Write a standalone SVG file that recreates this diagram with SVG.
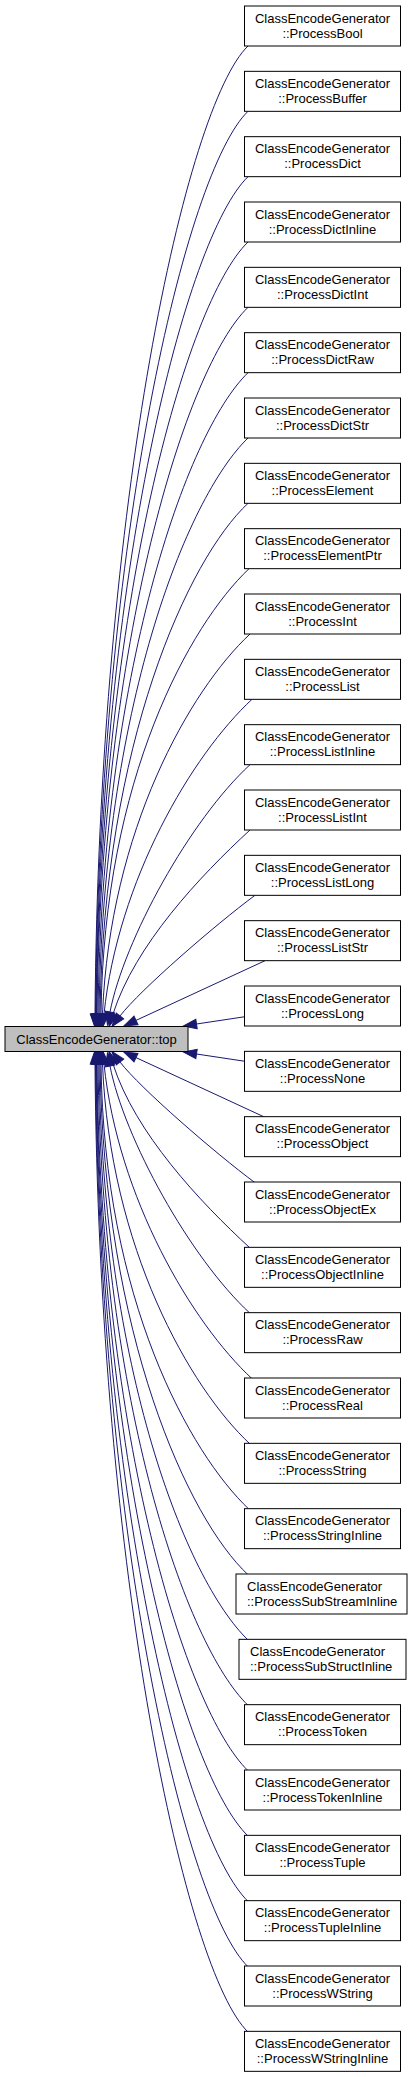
<svg xmlns="http://www.w3.org/2000/svg" width="415" height="2077" viewBox="0 0 415 2077">
<style>
.nd rect{fill:#fff;stroke:#000;stroke-width:1}
.nd text{font-family:"Liberation Sans",Arial,sans-serif;font-size:13px;fill:#000;text-anchor:middle}
.nd text.l{text-anchor:start}
#center rect{fill:#bfbfbf}
#edges path{fill:none;stroke:#191970;stroke-width:1;marker-end:url(#ah)}
</style>
<defs>
<marker id="ah" markerUnits="userSpaceOnUse" markerWidth="14" markerHeight="10" refX="0" refY="5" orient="auto" viewBox="0 0 14 10" overflow="visible">
<path d="M0,0.3 L13.3,5 L0,9.7 z" fill="#191970" stroke="#191970" stroke-width="1"/>
</marker>
</defs>
<rect width="415" height="2077" fill="#fff"/>
<g id="edges">
<path d="M248,46 C186,106 99,501 95,1014"/>
<path d="M248,111.3 C186,171.3 99.5,535.6 95.5,1014"/>
<path d="M248,176.7 C186,236.7 100,570.2 96,1014"/>
<path d="M248,242 C186,302 100.5,604.8 96.5,1014"/>
<path d="M248,307.3 C186,367.3 101,639.5 97,1014"/>
<path d="M248,372.7 C186,432.7 102,674.1 98,1014"/>
<path d="M248,438 C186,498 103,708.7 99,1014"/>
<path d="M248,503.3 C188,559.3 104,743.3 100,1014"/>
<path d="M249,568.7 C190,624.7 104,778 101,1014"/>
<path d="M250,634 C190,690 110,830 102.5,1014"/>
<path d="M252,699.3 C192,755 118,880 104,1014"/>
<path d="M250,764.7 C190,820 124,940 110,1012"/>
<path d="M250,830 C200,876 135,945 113,1014"/>
<path d="M255,895.3 C215,925 140,990 120,1016"/>
<path d="M265,960.7 L136,1020.4"/>
<path d="M245,1016.7 L196.5,1024"/>
<path d="M245,1061.3 L196.5,1054"/>
<path d="M265,1117.3 L136,1057.6"/>
<path d="M255,1182.7 C215,1153 140,1088 120,1062"/>
<path d="M250,1248 C200,1202 135,1133 113,1064"/>
<path d="M250,1313.3 C190,1258 124,1138 110,1066"/>
<path d="M252,1378.7 C192,1323 118,1198 104,1064"/>
<path d="M250,1444 C190,1388 110,1248 102.5,1064"/>
<path d="M249,1509.3 C190,1453.3 104,1300 101,1064"/>
<path d="M248,1574.7 C188,1518.7 104,1334.7 100,1064"/>
<path d="M248,1640 C186,1580 103,1369.3 99,1064"/>
<path d="M248,1705.3 C186,1645.3 102,1403.9 98,1064"/>
<path d="M248,1770.7 C186,1710.7 101,1438.5 97,1064"/>
<path d="M248,1836 C186,1776 100.5,1473.2 96.5,1064"/>
<path d="M248,1901.3 C186,1841.3 100,1507.8 96,1064"/>
<path d="M248,1966.7 C186,1906.7 99.5,1542.4 95.5,1064"/>
<path d="M248,2032 C186,1972 99,1577 95,1064"/>
</g>
<g id="center" class="nd"><rect x="5" y="1026.5" width="183" height="25"/><text x="96.5" y="1043.5">ClassEncodeGenerator::top</text></g>
<g id="n0" class="nd" transform="translate(244.5,6)"><rect width="156" height="40"/><text x="78" y="16.5">ClassEncodeGenerator</text><text x="78" y="31.5">::ProcessBool</text></g>
<g id="n1" class="nd" transform="translate(244.5,71.33)"><rect width="156" height="40"/><text x="78" y="16.5">ClassEncodeGenerator</text><text x="78" y="31.5">::ProcessBuffer</text></g>
<g id="n2" class="nd" transform="translate(244.5,136.67)"><rect width="156" height="40"/><text x="78" y="16.5">ClassEncodeGenerator</text><text x="78" y="31.5">::ProcessDict</text></g>
<g id="n3" class="nd" transform="translate(244.5,202)"><rect width="156" height="40"/><text x="78" y="16.5">ClassEncodeGenerator</text><text x="78" y="31.5">::ProcessDictInline</text></g>
<g id="n4" class="nd" transform="translate(244.5,267.33)"><rect width="156" height="40"/><text x="78" y="16.5">ClassEncodeGenerator</text><text x="78" y="31.5">::ProcessDictInt</text></g>
<g id="n5" class="nd" transform="translate(244.5,332.67)"><rect width="156" height="40"/><text x="78" y="16.5">ClassEncodeGenerator</text><text x="78" y="31.5">::ProcessDictRaw</text></g>
<g id="n6" class="nd" transform="translate(244.5,398)"><rect width="156" height="40"/><text x="78" y="16.5">ClassEncodeGenerator</text><text x="78" y="31.5">::ProcessDictStr</text></g>
<g id="n7" class="nd" transform="translate(244.5,463.33)"><rect width="156" height="40"/><text x="78" y="16.5">ClassEncodeGenerator</text><text x="78" y="31.5">::ProcessElement</text></g>
<g id="n8" class="nd" transform="translate(244.5,528.67)"><rect width="156" height="40"/><text x="78" y="16.5">ClassEncodeGenerator</text><text x="78" y="31.5">::ProcessElementPtr</text></g>
<g id="n9" class="nd" transform="translate(244.5,594)"><rect width="156" height="40"/><text x="78" y="16.5">ClassEncodeGenerator</text><text x="78" y="31.5">::ProcessInt</text></g>
<g id="n10" class="nd" transform="translate(244.5,659.33)"><rect width="156" height="40"/><text x="78" y="16.5">ClassEncodeGenerator</text><text x="78" y="31.5">::ProcessList</text></g>
<g id="n11" class="nd" transform="translate(244.5,724.67)"><rect width="156" height="40"/><text x="78" y="16.5">ClassEncodeGenerator</text><text x="78" y="31.5">::ProcessListInline</text></g>
<g id="n12" class="nd" transform="translate(244.5,790)"><rect width="156" height="40"/><text x="78" y="16.5">ClassEncodeGenerator</text><text x="78" y="31.5">::ProcessListInt</text></g>
<g id="n13" class="nd" transform="translate(244.5,855.33)"><rect width="156" height="40"/><text x="78" y="16.5">ClassEncodeGenerator</text><text x="78" y="31.5">::ProcessListLong</text></g>
<g id="n14" class="nd" transform="translate(244.5,920.67)"><rect width="156" height="40"/><text x="78" y="16.5">ClassEncodeGenerator</text><text x="78" y="31.5">::ProcessListStr</text></g>
<g id="n15" class="nd" transform="translate(244.5,986)"><rect width="156" height="40"/><text x="78" y="16.5">ClassEncodeGenerator</text><text x="78" y="31.5">::ProcessLong</text></g>
<g id="n16" class="nd" transform="translate(244.5,1051.33)"><rect width="156" height="40"/><text x="78" y="16.5">ClassEncodeGenerator</text><text x="78" y="31.5">::ProcessNone</text></g>
<g id="n17" class="nd" transform="translate(244.5,1116.67)"><rect width="156" height="40"/><text x="78" y="16.5">ClassEncodeGenerator</text><text x="78" y="31.5">::ProcessObject</text></g>
<g id="n18" class="nd" transform="translate(244.5,1182)"><rect width="156" height="40"/><text x="78" y="16.5">ClassEncodeGenerator</text><text x="78" y="31.5">::ProcessObjectEx</text></g>
<g id="n19" class="nd" transform="translate(244.5,1247.33)"><rect width="156" height="40"/><text x="78" y="16.5">ClassEncodeGenerator</text><text x="78" y="31.5">::ProcessObjectInline</text></g>
<g id="n20" class="nd" transform="translate(244.5,1312.67)"><rect width="156" height="40"/><text x="78" y="16.5">ClassEncodeGenerator</text><text x="78" y="31.5">::ProcessRaw</text></g>
<g id="n21" class="nd" transform="translate(244.5,1378)"><rect width="156" height="40"/><text x="78" y="16.5">ClassEncodeGenerator</text><text x="78" y="31.5">::ProcessReal</text></g>
<g id="n22" class="nd" transform="translate(244.5,1443.33)"><rect width="156" height="40"/><text x="78" y="16.5">ClassEncodeGenerator</text><text x="78" y="31.5">::ProcessString</text></g>
<g id="n23" class="nd" transform="translate(244.5,1508.67)"><rect width="156" height="40"/><text x="78" y="16.5">ClassEncodeGenerator</text><text x="78" y="31.5">::ProcessStringInline</text></g>
<g id="n24" class="nd" transform="translate(236,1574)"><rect width="171" height="40"/><text class="l" x="11" y="16.5">ClassEncodeGenerator</text><text class="l" x="11" y="31.5">::ProcessSubStreamInline</text></g>
<g id="n25" class="nd" transform="translate(239,1639.33)"><rect width="167" height="40"/><text class="l" x="11" y="16.5">ClassEncodeGenerator</text><text class="l" x="11" y="31.5">::ProcessSubStructInline</text></g>
<g id="n26" class="nd" transform="translate(244.5,1704.67)"><rect width="156" height="40"/><text x="78" y="16.5">ClassEncodeGenerator</text><text x="78" y="31.5">::ProcessToken</text></g>
<g id="n27" class="nd" transform="translate(244.5,1770)"><rect width="156" height="40"/><text x="78" y="16.5">ClassEncodeGenerator</text><text x="78" y="31.5">::ProcessTokenInline</text></g>
<g id="n28" class="nd" transform="translate(244.5,1835.33)"><rect width="156" height="40"/><text x="78" y="16.5">ClassEncodeGenerator</text><text x="78" y="31.5">::ProcessTuple</text></g>
<g id="n29" class="nd" transform="translate(244.5,1900.67)"><rect width="156" height="40"/><text x="78" y="16.5">ClassEncodeGenerator</text><text x="78" y="31.5">::ProcessTupleInline</text></g>
<g id="n30" class="nd" transform="translate(244.5,1966)"><rect width="156" height="40"/><text x="78" y="16.5">ClassEncodeGenerator</text><text x="78" y="31.5">::ProcessWString</text></g>
<g id="n31" class="nd" transform="translate(244.5,2031.33)"><rect width="156" height="40"/><text x="78" y="16.5">ClassEncodeGenerator</text><text x="78" y="31.5">::ProcessWStringInline</text></g>
</svg>
